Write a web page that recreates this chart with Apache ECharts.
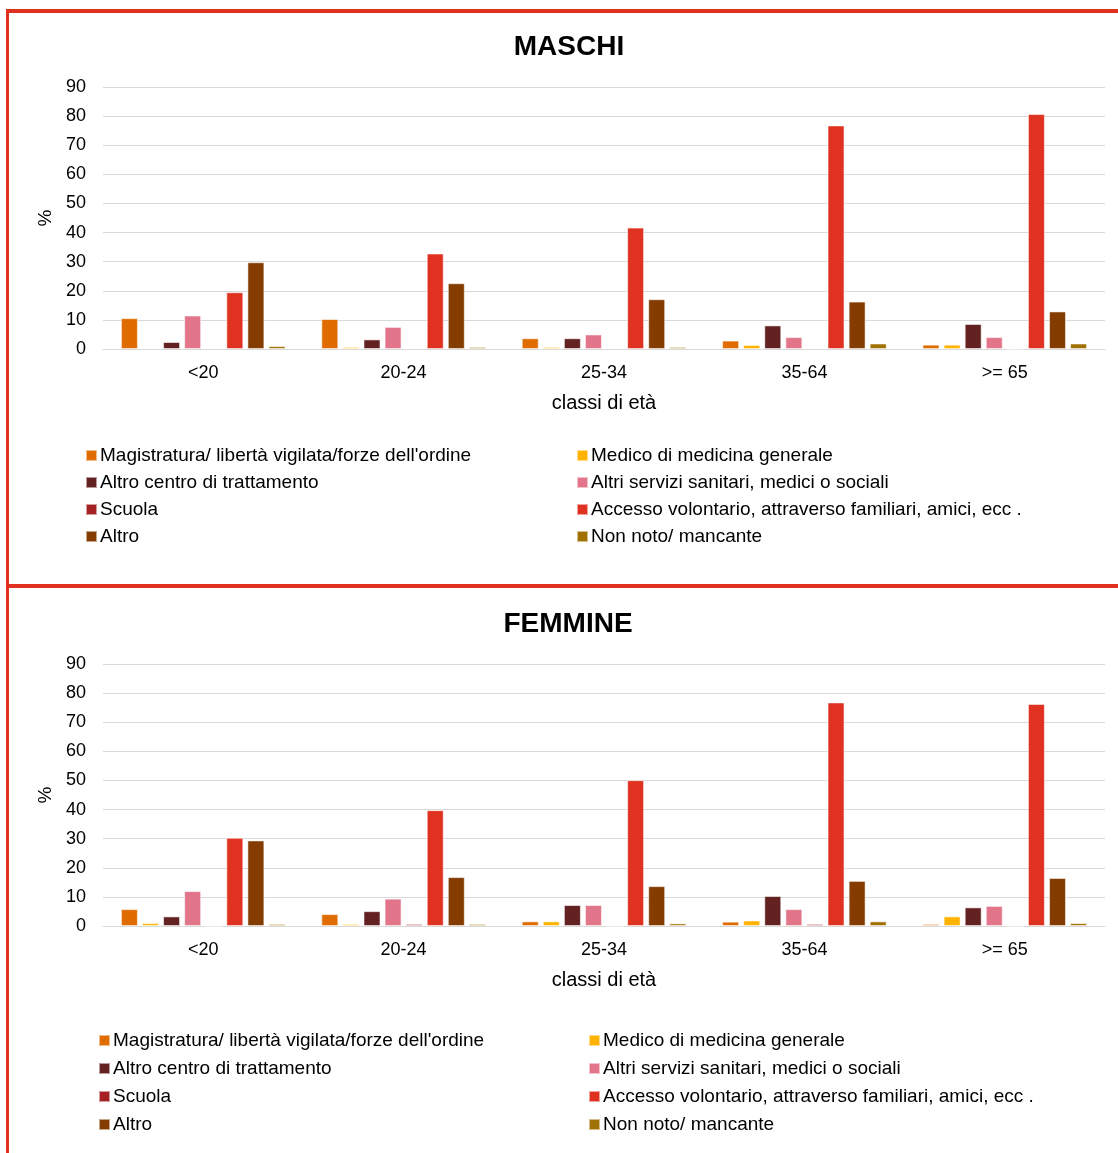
<!DOCTYPE html>
<html>
<head>
<meta charset="utf-8">
<title>Canali di invio per classi di età</title>
<script src="https://cdn.jsdelivr.net/npm/echarts@6/dist/echarts.min.js"></script>
<style>
  html, body { margin: 0; padding: 0; background: #fff; }
  #main { width: 1118px; height: 1153px; }
</style>
</head>
<body>
<div id="main"></div>
<script>
var categories = ['<20', '20-24', '25-34', '35-64', '>= 65'];

var seriesNames = [
  "Magistratura/ libertà vigilata/forze dell'ordine",
  'Medico di medicina generale',
  'Altro centro di trattamento',
  'Altri servizi sanitari, medici o sociali',
  'Scuola',
  'Accesso volontario, attraverso familiari, amici, ecc .',
  'Altro',
  'Non noto/ mancante'
];
var colors = ['#E06C00', '#FFB300', '#632121', '#E2758A', '#A52224', '#E03220', '#843C00', '#A07000'];

// MASCHI (%)
var mMagistratura = [10.6, 10.3, 3.7, 2.9, 1.5];
var mMedico       = [0.3, 0.7, 0.7, 1.4, 1.5];
var mAltroCentro  = [2.4, 3.3, 3.7, 8.1, 8.6];
var mAltriServizi = [11.5, 7.6, 5.0, 4.1, 4.1];
var mScuola       = [0.3, 0.3, 0.3, 0.3, 0];
var mAccesso      = [19.5, 32.8, 41.7, 76.8, 80.7];
var mAltro        = [29.8, 22.6, 17.1, 16.3, 12.9];
var mNonNoto      = [1.0, 0.7, 0.7, 1.9, 1.9];

// FEMMINE (%)
var fMagistratura = [5.8, 4.1, 1.6, 1.5, 0.7];
var fMedico       = [1.0, 0.7, 1.6, 1.9, 3.3];
var fAltroCentro  = [3.3, 5.1, 7.2, 10.3, 6.4];
var fAltriServizi = [12.0, 9.4, 7.2, 5.8, 6.9];
var fScuola       = [0, 0.7, 0, 0.7, 0];
var fAccesso      = [30.3, 39.8, 50.1, 76.8, 76.3];
var fAltro        = [29.4, 16.8, 13.7, 15.5, 16.5];
var fNonNoto      = [0.7, 0.7, 0.9, 1.6, 1.0];

var yTicks = [0, 90, 10];

var maschi = [mMagistratura, mMedico, mAltroCentro, mAltriServizi, mScuola, mAccesso, mAltro, mNonNoto];
var femmine = [fMagistratura, fMedico, fAltroCentro, fAltriServizi, fScuola, fAccesso, fAltro, fNonNoto];

var font = 'Liberation Sans, Arial, sans-serif';
var red = '#E03020';

function xAxis(idx) {
  return {
    type: 'category', gridIndex: idx, data: categories,
    name: 'classi di età', nameLocation: 'middle', nameGap: 44,
    nameTextStyle: { fontFamily: font, fontSize: 20, color: '#000' },
    axisLine: { lineStyle: { color: '#d9d9d9' } },
    axisTick: { show: false },
    axisLabel: { fontFamily: font, fontSize: 18, color: '#000', margin: 15 }
  };
}
function yAxis(idx) {
  return {
    type: 'value', gridIndex: idx, min: yTicks[0], max: yTicks[1], interval: yTicks[2],
    name: '%', nameLocation: 'middle', nameGap: 43, nameRotate: 90,
    nameTextStyle: { fontFamily: font, fontSize: 19, color: '#000' },
    axisLine: { show: false }, axisTick: { show: false },
    axisLabel: { fontFamily: font, fontSize: 18, color: '#000', margin: 17 },
    splitLine: { lineStyle: { color: '#d9d9d9' } }
  };
}
function legends(top, leftA, leftB, gap) {
  var base = {
    orient: 'vertical', top: top, padding: 0, itemWidth: 11, itemHeight: 11, itemGap: gap,
    icon: 'rect', selectedMode: false,
    textStyle: { fontFamily: font, fontSize: 19, color: '#000', lineHeight: 19, padding: [0, 0, 0, -2] }
  };
  return [
    Object.assign({}, base, { left: leftA, data: [seriesNames[0], seriesNames[2], seriesNames[4], seriesNames[6]] }),
    Object.assign({}, base, { left: leftB, data: [seriesNames[1], seriesNames[3], seriesNames[5], seriesNames[7]] })
  ];
}

var series = [];
[maschi, femmine].forEach(function (set, g) {
  set.forEach(function (vals, i) {
    series.push({
      name: seriesNames[i], type: 'bar', xAxisIndex: g, yAxisIndex: g,
      data: vals, barWidth: 17, barGap: '24%',
      itemStyle: { color: colors[i], borderColor: 'rgba(255,255,255,0.55)', borderWidth: 1 }
    });
  });
});

var chart = echarts.init(document.getElementById('main'));
chart.setOption({
  animation: false,
  color: colors,
  title: [
    { text: 'MASCHI', left: 569, top: 33, padding: 0, textAlign: 'center',
      textStyle: { fontFamily: font, fontSize: 28, fontWeight: 'bold', color: '#000' } },
    { text: 'FEMMINE', left: 568, top: 610, padding: 0, textAlign: 'center',
      textStyle: { fontFamily: font, fontSize: 28, fontWeight: 'bold', color: '#000' } }
  ],
  grid: [
    { left: 103, right: 13, top: 87, height: 262 },
    { left: 103, right: 13, top: 664, height: 262 }
  ],
  xAxis: [xAxis(0), xAxis(1)],
  yAxis: [yAxis(0), yAxis(1)],
  legend: legends(446, 85, 576, 8).concat(legends(1031, 98, 588, 9)),
  series: series,
  graphic: [
    { type: 'line', shape: { x1: 7.5, y1: 11, x2: 1118, y2: 11 }, style: { stroke: red, lineWidth: 4 } },
    { type: 'line', shape: { x1: 7.5, y1: 9, x2: 7.5, y2: 1153 }, style: { stroke: red, lineWidth: 3 } },
    { type: 'line', shape: { x1: 6, y1: 586, x2: 1118, y2: 586 }, style: { stroke: red, lineWidth: 4 } }
  ]
});
</script>
</body>
</html>
